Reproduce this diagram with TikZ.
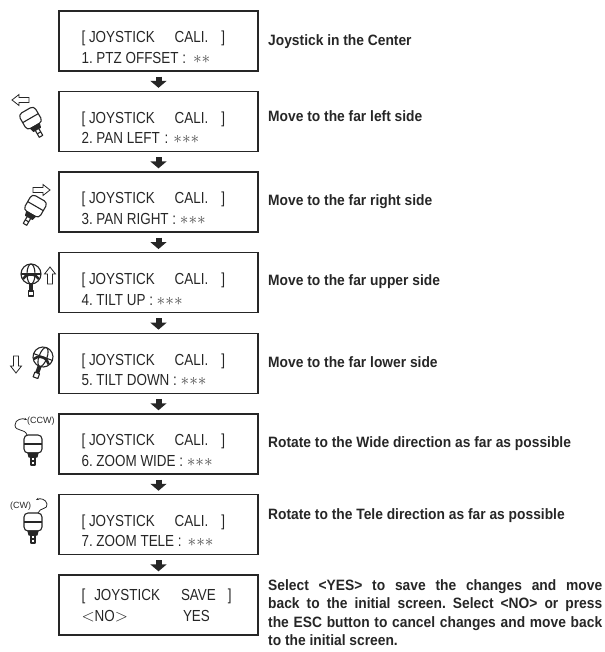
\documentclass[tikz,border=0pt]{standalone}
\usepackage{fontspec}
\setmainfont{Liberation Sans}
\newfontfamily\lcdfont[FakeStretch=0.84]{Liberation Sans}
\newfontfamily\notefont[FakeStretch=0.92]{Liberation Sans Bold}
\usetikzlibrary{arrows.meta}
\frenchspacing

\tikzset{
  lcd/.style={draw=black!85, line width=1.3pt, minimum width=199pt, minimum height=60pt, inner sep=0pt},
  lcdline/.style={anchor=base west, inner sep=0pt, font=\lcdfont\fontsize{16}{20}\selectfont, text=black!85},
  note/.style={anchor=base west, inner sep=0pt, font=\notefont\fontsize{15}{18.5}\selectfont, text=black!85},
  turn/.style={anchor=base west, inner sep=0pt, font=\fontsize{9}{9}\selectfont, text=black!85},
  next/.style={line width=6pt, black!85, -{Triangle[width=16pt,length=7pt]}},
  stick/.style={line width=1.1pt, black!85, line join=round},
  hollow/.pic={
    \draw[line width=0.8pt, black!85, fill=white] (0,-2.5) -- (10,-2.5) -- (10,-5.5) -- (17,0)
      -- (10,5.5) -- (10,2.5) -- (0,2.5) -- cycle;
  },
  joyside/.pic={
    \draw[stick, rounded corners=4pt, fill=white] (-9,-10) rectangle (9,8);
    \draw[stick] (-9,-1) -- (9,-1);
    \draw[stick, fill=black!85] (-5,8) -- (-4,12) -- (4,12) -- (5,8) -- cycle;
    \draw[stick, fill=white] (-2,12) rectangle (2,20);
    \draw[stick] (-2,16) -- (2,16);
  },
  joytop/.pic={
    \draw[stick, fill=white] (0,0) circle (10);
    \draw[stick] (0,0) ellipse (4 and 10);
    \draw[stick] (-10,0) -- (10,0);
    \draw[line width=2.5pt, black!85] (-8,5) arc (210:330:9.2);
    \draw[stick, fill=black!85] (-1.5,10) rectangle (1.5,20);
    \draw[stick, fill=white] (-2.5,17) rectangle (2.5,22);
  }
}
\newcommand{\stars}[1]{{\color{black!70}$\foreach\s in {1,...,#1}{{\ast}}$}}

\begin{document}
\begin{tikzpicture}[x=1pt, y=-1pt]
  \useasboundingbox (0,0) rectangle (604,652);

  % screens
  \node[lcd] (b1) at (158.5,41) {};
  \node[lcd] (b2) at (158.5,121.5) {};
  \node[lcd] (b3) at (158.5,202) {};
  \node[lcd] (b4) at (158.5,282.7) {};
  \node[lcd] (b5) at (158.5,363.3) {};
  \node[lcd] (b6) at (158.5,443.9) {};
  \node[lcd] (b7) at (158.5,524.4) {};
  \node[lcd] (b8) at (158.5,605) {};

  \foreach \b in {b1,b2,b3,b4,b5,b6,b7}
    \node[lcdline] at ([xshift=23pt,yshift=-2pt]\b.west) {[ JOYSTICK\hspace{20pt}CALI.\hspace{13pt}]};

  \node[lcdline] at ([xshift=23pt,yshift=-22.5pt]b1.west) {1. PTZ OFFSET :\hspace{7pt}\stars{2}};
  \node[lcdline] at ([xshift=23pt,yshift=-22.5pt]b2.west) {2. PAN LEFT\hspace{5pt}:\hspace{5pt}\stars{3}};
  \node[lcdline] at ([xshift=23pt,yshift=-22.5pt]b3.west) {3. PAN RIGHT : \stars{3}};
  \node[lcdline] at ([xshift=23pt,yshift=-22.5pt]b4.west) {4. TILT UP : \stars{3}};
  \node[lcdline] at ([xshift=23pt,yshift=-22.5pt]b5.west) {5. TILT DOWN : \stars{3}};
  \node[lcdline] at ([xshift=23pt,yshift=-22.5pt]b6.west) {6. ZOOM WIDE : \stars{3}};
  \node[lcdline] at ([xshift=23pt,yshift=-22.5pt]b7.west) {7. ZOOM TELE :\hspace{6pt}\stars{3}};

  \node[lcdline] at ([xshift=23pt,yshift=5pt]b8.west) {[\hspace{9pt}JOYSTICK\hspace{21pt}SAVE\hspace{12pt}]};
  \node[lcdline] at ([xshift=23pt,yshift=-16pt]b8.west) {$<$NO$>$\hspace{55pt}YES};

  % steps
  \foreach \a/\b in {b1/b2,b2/b3,b3/b4,b4/b5,b5/b6,b6/b7,b7/b8}
    \draw[next] ([yshift=-5pt]\a.south) -- ([yshift=3pt]\b.north);

  % what to do
  \node[note] (n1) at (268,46) {Joystick in the Center};
  \node[note] (n2) at (268,122) {Move to the far left side};
  \node[note] (n3) at (268,205) {Move to the far right side};
  \node[note] (n4) at (268,285) {Move to the far upper side};
  \node[note] (n5) at (268,367) {Move to the far lower side};
  \node[note] (n6) at (268,447) {Rotate to the Wide direction as far as possible};
  \node[note] (n7) at (268,519) {Rotate to the Tele direction as far as possible};
  \node[note, anchor=north west, text width=334pt, align=justify] (n8) at (268,579)
    {Select <YES> to save the changes and move\linebreak
     back to the initial screen. Select <NO> or press\linebreak
     the ESC button to cancel changes and move back\linebreak
     to the initial screen.};

  % joysticks
  \pic[rotate=30] at (31,119) {joyside};
  \pic[rotate=180] at (29,100) {hollow};
  \pic[rotate=-30] at (35,207) {joyside};
  \pic at (33,190) {hollow};
  \pic at (31,274) {joytop};
  \pic[rotate=90] at (50,284) {hollow};
  \pic[rotate=-20] at (43,357) {joytop};
  \pic[rotate=-90] at (16,356) {hollow};

  \pic at (33,445) {joyside};
  \draw[line width=0.8pt, black!85, -{Stealth[length=3pt]}] (27,435) .. controls (25,428) and (15,432) .. (15,425)
    .. controls (15,419) and (23,418) .. (27,420);
  \node[turn] (ccw) at (27,423) {(CCW)};

  \pic at (33,523) {joyside};
  \draw[line width=0.8pt, black!85, -{Stealth[length=3pt]}] (38,513) .. controls (40,507) and (48,510) .. (47,504)
    .. controls (46,499) and (40,498) .. (36,500);
  \node[turn] (cw) at (10,508) {(CW)};
\end{tikzpicture}
\end{document}
